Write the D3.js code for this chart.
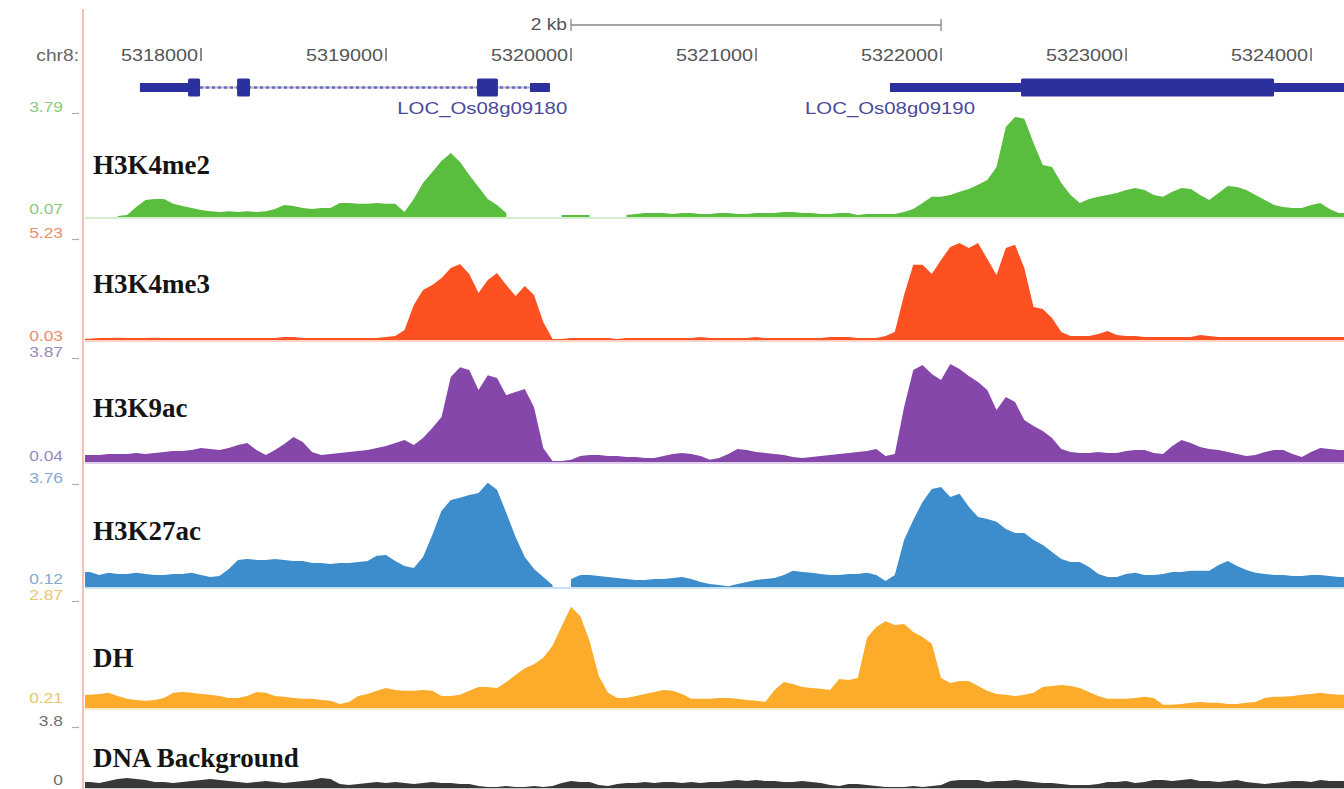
<!DOCTYPE html>
<html>
<head>
<meta charset="utf-8">
<script src="https://cdn.jsdelivr.net/npm/d3@7"></script>
<style>
  html, body { margin: 0; padding: 0; background: #ffffff; }
  svg { display: block; }
</style>
</head>
<body>
<svg id="chart" width="1344" height="789"></svg>
<script>
// ---------------- data ----------------
const chromName = "chr8:";
const binStart = 5317400;   // centre of the first 50-bp bin
const binSize = 50;
const viewStart = 5317373, viewEnd = 5324178;

const rulerTicks = [5318000, 5319000, 5320000, 5321000, 5322000, 5323000, 5324000];
const rulerTickLabels = ["5318000", "5319000", "5320000", "5321000", "5322000", "5323000", "5324000"];
const scaleBarSpan = [5320000, 5322000];
const scaleBarLabel = "2 kb";

const geneNames = ["LOC_Os08g09180", "LOC_Os08g09190"];
const geneSpans = [[5317670, 5319886], [5321724, 5324250]];
const geneUTRs = [
  [[5317670, 5317941], [5319778, 5319886]],
  [[5321724, 5322432], [5323800, 5324250]]
];
const geneCDS = [
  [[5317930, 5317995], [5318195, 5318265], [5319492, 5319605]],
  [[5322432, 5323800]]
];

const trackNames = ["H3K4me2", "H3K4me3", "H3K9ac", "H3K27ac", "DH", "DNA Background"];
const trackMin = [0.07, 0.03, 0.04, 0.12, 0.21, 0];
const trackMax = [3.79, 5.23, 3.87, 3.76, 2.87, 3.8];
const trackMinLabels = ["0.07", "0.03", "0.04", "0.12", "0.21", "0"];
const trackMaxLabels = ["3.79", "5.23", "3.87", "3.76", "2.87", "3.8"];

const h3k4me2 = [
  null, null, null, 0.11, 0.14, 0.43, 0.68, 0.71, 0.71, 0.54,
  0.46, 0.39, 0.32, 0.28, 0.25, 0.28, 0.25, 0.28, 0.25, 0.28,
  0.36, 0.50, 0.46, 0.39, 0.36, 0.39, 0.39, 0.57, 0.57, 0.54,
  0.54, 0.57, 0.54, 0.54, 0.25, 0.71, 1.29, 1.68, 2.07, 2.36,
  2.04, 1.57, 1.14, 0.71, 0.50, 0.21, null, null, null, null,
  null, 0.14, 0.14, 0.14, 0.14, null, null, null, 0.14, 0.18,
  0.21, 0.21, 0.21, 0.18, 0.21, 0.21, 0.18, 0.18, 0.21, 0.21,
  0.18, 0.18, 0.21, 0.21, 0.21, 0.25, 0.25, 0.21, 0.21, 0.18,
  0.18, 0.21, 0.21, 0.14, 0.18, 0.18, 0.18, 0.18, 0.25, 0.36,
  0.57, 0.79, 0.79, 0.86, 0.97, 1.07, 1.22, 1.39, 1.86, 3.29,
  3.65, 3.58, 2.72, 1.93, 1.86, 1.29, 0.86, 0.57, 0.71, 0.79,
  0.86, 0.93, 1.04, 1.11, 1.04, 0.86, 0.79, 0.97, 1.11, 1.07,
  0.86, 0.68, 0.93, 1.18, 1.14, 1.04, 0.86, 0.68, 0.50, 0.43,
  0.39, 0.39, 0.50, 0.57, 0.36, 0.21
];

const h3k4me3 = [
  0.10, 0.13, 0.13, 0.15, 0.13, 0.13, 0.13, 0.15, 0.13, 0.13,
  0.13, 0.13, 0.13, 0.13, 0.13, 0.13, 0.13, 0.13, 0.13, 0.13,
  0.13, 0.18, 0.18, 0.13, 0.13, 0.13, 0.13, 0.13, 0.13, 0.13,
  0.13, 0.13, 0.18, 0.23, 0.54, 1.82, 2.58, 2.84, 3.19, 3.70,
  3.91, 3.40, 2.43, 3.09, 3.45, 2.84, 2.27, 2.78, 2.33, 0.95,
  0.08, 0.08, 0.13, 0.13, 0.13, 0.13, 0.13, 0.08, 0.13, 0.13,
  0.13, 0.13, 0.13, 0.13, 0.13, 0.13, 0.18, 0.13, 0.13, 0.13,
  0.13, 0.13, 0.18, 0.13, 0.13, 0.13, 0.13, 0.13, 0.13, 0.13,
  0.18, 0.18, 0.18, 0.13, 0.13, 0.13, 0.23, 0.44, 2.33, 3.86,
  3.86, 3.40, 4.11, 4.77, 4.98, 4.72, 4.98, 4.16, 3.35, 4.72,
  4.88, 3.70, 1.71, 1.61, 1.15, 0.44, 0.23, 0.23, 0.23, 0.34,
  0.49, 0.29, 0.23, 0.23, 0.18, 0.18, 0.18, 0.18, 0.18, 0.18,
  0.29, 0.23, 0.18, 0.18, 0.18, 0.18, 0.18, 0.18, 0.18, 0.18,
  0.18, 0.18, 0.18, 0.18, 0.18, 0.18
];

const h3k9ac = [
  0.30, 0.30, 0.34, 0.34, 0.34, 0.38, 0.34, 0.38, 0.42, 0.45,
  0.45, 0.49, 0.57, 0.53, 0.49, 0.57, 0.68, 0.75, 0.49, 0.30,
  0.49, 0.72, 0.98, 0.79, 0.42, 0.30, 0.34, 0.38, 0.42, 0.45,
  0.49, 0.57, 0.64, 0.75, 0.87, 0.68, 0.94, 1.32, 1.73, 3.23,
  3.60, 3.49, 2.74, 3.30, 3.19, 2.55, 2.67, 2.78, 2.10, 0.57,
  0.08, 0.08, 0.12, 0.27, 0.30, 0.30, 0.27, 0.27, 0.23, 0.23,
  0.19, 0.19, 0.27, 0.34, 0.38, 0.34, 0.27, 0.12, 0.19, 0.34,
  0.53, 0.49, 0.42, 0.38, 0.34, 0.30, 0.23, 0.19, 0.23, 0.27,
  0.30, 0.34, 0.38, 0.42, 0.45, 0.53, 0.27, 0.34, 2.10, 3.49,
  3.68, 3.34, 3.12, 3.72, 3.53, 3.27, 3.04, 2.74, 1.99, 2.48,
  2.29, 1.62, 1.39, 1.20, 0.94, 0.53, 0.42, 0.38, 0.38, 0.42,
  0.38, 0.38, 0.45, 0.49, 0.49, 0.38, 0.34, 0.64, 0.87, 0.75,
  0.60, 0.53, 0.49, 0.42, 0.34, 0.27, 0.30, 0.42, 0.49, 0.49,
  0.34, 0.23, 0.42, 0.57, 0.53, 0.49
];

const h3k27ac = [
  0.64, 0.54, 0.61, 0.57, 0.57, 0.61, 0.57, 0.54, 0.54, 0.57,
  0.57, 0.61, 0.54, 0.47, 0.50, 0.74, 1.06, 1.09, 1.06, 1.06,
  1.09, 1.06, 1.02, 1.02, 0.95, 0.95, 0.92, 0.95, 0.95, 0.99,
  1.02, 1.20, 1.23, 1.02, 0.85, 0.78, 1.16, 1.92, 2.76, 3.14,
  3.21, 3.31, 3.38, 3.73, 3.49, 2.69, 1.86, 1.16, 0.74, 0.47,
  0.19, null, 0.40, 0.54, 0.54, 0.50, 0.47, 0.43, 0.40, 0.36,
  0.36, 0.40, 0.40, 0.43, 0.47, 0.40, 0.29, 0.22, 0.19, 0.15,
  0.22, 0.29, 0.36, 0.40, 0.43, 0.54, 0.68, 0.64, 0.61, 0.57,
  0.54, 0.54, 0.57, 0.57, 0.61, 0.54, 0.33, 0.54, 1.75, 2.44,
  3.07, 3.52, 3.59, 3.24, 3.35, 2.90, 2.55, 2.48, 2.38, 2.13,
  1.99, 1.99, 1.75, 1.58, 1.33, 1.09, 0.99, 0.99, 0.81, 0.57,
  0.47, 0.47, 0.57, 0.61, 0.54, 0.54, 0.57, 0.64, 0.64, 0.68,
  0.68, 0.68, 0.88, 1.02, 0.85, 0.71, 0.61, 0.57, 0.54, 0.54,
  0.50, 0.50, 0.54, 0.54, 0.50, 0.47
];

const dnaseDH = [
  0.54, 0.56, 0.59, 0.51, 0.44, 0.41, 0.39, 0.41, 0.46, 0.59,
  0.61, 0.59, 0.56, 0.54, 0.51, 0.46, 0.46, 0.51, 0.61, 0.59,
  0.51, 0.49, 0.46, 0.44, 0.44, 0.41, 0.39, 0.31, 0.36, 0.51,
  0.56, 0.64, 0.71, 0.66, 0.64, 0.64, 0.66, 0.64, 0.51, 0.51,
  0.54, 0.64, 0.74, 0.74, 0.71, 0.86, 1.04, 1.21, 1.31, 1.47,
  1.77, 2.27, 2.75, 2.52, 1.90, 1.01, 0.59, 0.46, 0.46, 0.51,
  0.56, 0.61, 0.66, 0.64, 0.56, 0.44, 0.44, 0.44, 0.46, 0.46,
  0.44, 0.41, 0.39, 0.36, 0.66, 0.86, 0.81, 0.74, 0.71, 0.69,
  0.66, 0.94, 0.91, 0.96, 1.97, 2.24, 2.39, 2.29, 2.32, 2.12,
  1.99, 1.82, 0.96, 0.84, 0.89, 0.89, 0.76, 0.64, 0.56, 0.54,
  0.51, 0.54, 0.59, 0.74, 0.76, 0.79, 0.76, 0.71, 0.61, 0.51,
  0.44, 0.44, 0.44, 0.46, 0.49, 0.46, 0.29, 0.29, 0.31, 0.34,
  0.36, 0.34, 0.34, 0.31, 0.31, 0.34, 0.36, 0.46, 0.49, 0.49,
  0.51, 0.54, 0.56, 0.59, 0.56, 0.54
];

const dnaBackground = [
  0.37, 0.31, 0.43, 0.55, 0.61, 0.55, 0.49, 0.37, 0.37, 0.31,
  0.37, 0.43, 0.49, 0.55, 0.49, 0.43, 0.37, 0.31, 0.37, 0.43,
  0.37, 0.31, 0.37, 0.43, 0.49, 0.61, 0.55, 0.25, 0.18, 0.25,
  0.31, 0.37, 0.31, 0.37, 0.31, 0.25, 0.31, 0.37, 0.31, 0.31,
  0.25, 0.25, 0.12, 0.06, 0.06, 0.12, 0.06, 0.06, 0.12, 0.06,
  0.12, 0.31, 0.43, 0.37, 0.37, 0.18, 0.12, 0.25, 0.31, 0.31,
  0.37, 0.31, 0.37, 0.37, 0.31, 0.37, 0.31, 0.37, 0.37, 0.43,
  0.49, 0.43, 0.49, 0.43, 0.43, 0.37, 0.37, 0.43, 0.37, 0.31,
  0.18, 0.12, 0.25, 0.25, 0.18, 0.12, 0.06, 0.06, 0.06, 0.12,
  0.06, 0.12, 0.18, 0.43, 0.49, 0.49, 0.49, 0.37, 0.43, 0.43,
  0.49, 0.43, 0.37, 0.31, 0.31, 0.25, 0.18, 0.18, 0.18, 0.25,
  0.37, 0.37, 0.43, 0.31, 0.37, 0.49, 0.49, 0.43, 0.49, 0.55,
  0.43, 0.43, 0.37, 0.43, 0.49, 0.37, 0.31, 0.25, 0.31, 0.37,
  0.43, 0.43, 0.37, 0.49, 0.43, 0.43
];

const trackValues = [h3k4me2, h3k4me3, h3k9ac, h3k27ac, dnaseDH, dnaBackground];

// ---------------- styling / layout ----------------
const trackColors = ["#59bd3d", "#fd5121", "#8647ab", "#3d8dcd", "#fcac2a", "#383838"];
const axisLabelColors = ["#8cc97e", "#e98d6c", "#9c88bb", "#84a9d1", "#ecc46c", "#707070"];
const trackLayout = [
  { top: 113, base: 217, labelY: 174, maxY: 112, minY: 214 },
  { top: 238, base: 340, labelY: 293, maxY: 238, minY: 341 },
  { top: 360, base: 462, labelY: 417, maxY: 357, minY: 461 },
  { top: 482, base: 587, labelY: 540, maxY: 483, minY: 584 },
  { top: 602, base: 708, labelY: 667, maxY: 600, minY: 703 },
  { top: 726, base: 788, labelY: 767, maxY: 726, minY: 785 }
];
const plotLeft = 85, plotRight = 1344;
const geneY = 87.5, utrH = 9, cdsH = 18;
const geneColor = "#2c2f9e";
const geneLabelAt = [5319520, 5321724];
const smallFont = "'Liberation Sans', Arial, sans-serif";
const stretchX = 1.2;

const svg = d3.select("#chart");
const x = d3.scaleLinear().domain([viewStart, viewEnd]).range([plotLeft, plotRight]);

// text stretched horizontally, anchored at (px, py)
function wideText(parent, px, py, str, anchor, color, size) {
  return parent.append("g")
    .attr("transform", `translate(${px},${py}) scale(${stretchX},1)`)
    .append("text")
    .attr("x", 0).attr("y", 0)
    .attr("text-anchor", anchor)
    .attr("font-family", smallFont)
    .attr("font-size", size)
    .attr("fill", color)
    .text(str);
}

// ---------------- ruler ----------------
const ruler = svg.append("g");
ruler.append("line")
  .attr("x1", x(scaleBarSpan[0])).attr("x2", x(scaleBarSpan[1]))
  .attr("y1", 25).attr("y2", 25)
  .attr("stroke", "#8a8a8a").attr("stroke-width", 1.3);
scaleBarSpan.forEach(p => {
  ruler.append("line")
    .attr("x1", x(p)).attr("x2", x(p)).attr("y1", 19).attr("y2", 31)
    .attr("stroke", "#8a8a8a").attr("stroke-width", 1.3);
});
wideText(ruler, x(scaleBarSpan[0]) - 4, 30, scaleBarLabel, "end", "#555", 16);

wideText(ruler, 79, 61, chromName, "end", "#666", 16);
rulerTicks.forEach((t, i) => {
  ruler.append("line")
    .attr("x1", x(t)).attr("x2", x(t)).attr("y1", 48).attr("y2", 61)
    .attr("stroke", "#5a5a5a").attr("stroke-width", 1.4);
  wideText(ruler, x(t) - 3, 61, rulerTickLabels[i], "end", "#555", 16.5);
});

// ---------------- gene models ----------------
const genesG = svg.append("g");
geneNames.forEach((name, gi) => {
  const span = geneSpans[gi];
  const x0 = Math.max(x(span[0]), plotLeft), x1 = Math.min(x(span[1]), plotRight);
  // intron backbone
  genesG.append("line")
    .attr("x1", x0).attr("x2", x1).attr("y1", geneY).attr("y2", geneY)
    .attr("stroke", "#b7b7d6").attr("stroke-width", 2);
  genesG.append("line")
    .attr("x1", x0).attr("x2", x1).attr("y1", geneY).attr("y2", geneY)
    .attr("stroke", "#6a6ab8").attr("stroke-width", 2.4)
    .attr("stroke-dasharray", "3,3");
  geneUTRs[gi].forEach(u => {
    const a = Math.max(x(u[0]), plotLeft), b = Math.min(x(u[1]), plotRight);
    genesG.append("rect")
      .attr("x", a).attr("y", geneY - utrH / 2)
      .attr("width", b - a).attr("height", utrH)
      .attr("fill", geneColor);
  });
  geneCDS[gi].forEach(c => {
    const a = Math.max(x(c[0]), plotLeft), b = Math.min(x(c[1]), plotRight);
    genesG.append("rect")
      .attr("x", a).attr("y", geneY - cdsH / 2)
      .attr("width", b - a).attr("height", cdsH)
      .attr("rx", 1.5)
      .attr("fill", geneColor);
  });
  wideText(genesG, x(geneLabelAt[gi]), 114, name, "middle", "#4a4a9c", 17);
});

// ---------------- signal tracks ----------------
const tracksG = svg.append("g");
trackNames.forEach((name, ti) => {
  const L = trackLayout[ti];
  const y = d3.scaleLinear().domain([trackMin[ti], trackMax[ti]]).range([L.base, L.top]).clamp(true);
  const vals = trackValues[ti];
  const pts = vals.map((v, i) => ({ p: binStart + i * binSize, v: v }));
  // carry the edge bins out to the borders of the view
  if (vals[0] != null) pts.unshift({ p: viewStart, v: vals[0] });
  if (vals[vals.length - 1] != null) pts.push({ p: viewEnd, v: vals[vals.length - 1] });

  const area = d3.area()
    .defined(d => d.v != null)
    .x(d => x(d.p))
    .y0(L.base)
    .y1(d => y(d.v))
    .curve(d3.curveLinear);

  tracksG.append("line")
    .attr("x1", plotLeft).attr("x2", plotRight)
    .attr("y1", L.base + 1).attr("y2", L.base + 1)
    .attr("stroke", trackColors[ti]).attr("stroke-opacity", 0.35).attr("stroke-width", 1.5);

  tracksG.append("path")
    .datum(pts)
    .attr("d", area)
    .attr("fill", trackColors[ti]);

  // track title
  tracksG.append("text")
    .attr("x", 93).attr("y", L.labelY)
    .attr("font-family", "'Liberation Serif', 'Times New Roman', serif")
    .attr("font-weight", "bold")
    .attr("font-size", 27)
    .attr("fill", "#151515")
    .text(name);

  // data range labels
  wideText(tracksG, 63, L.maxY, trackMaxLabels[ti], "end", axisLabelColors[ti], 14.5);
  wideText(tracksG, 63, L.minY, trackMinLabels[ti], "end", axisLabelColors[ti], 14.5);
  tracksG.append("line")
    .attr("x1", 72).attr("x2", 79).attr("y1", L.maxY + 1.5).attr("y2", L.maxY + 1.5)
    .attr("stroke", "#b0b0b0").attr("stroke-width", 1.2);
});

// left guide line
svg.append("line")
  .attr("x1", 83).attr("x2", 83).attr("y1", 9).attr("y2", 789)
  .attr("stroke", "#f2a8a2").attr("stroke-width", 1.5);
</script>
</body>
</html>
